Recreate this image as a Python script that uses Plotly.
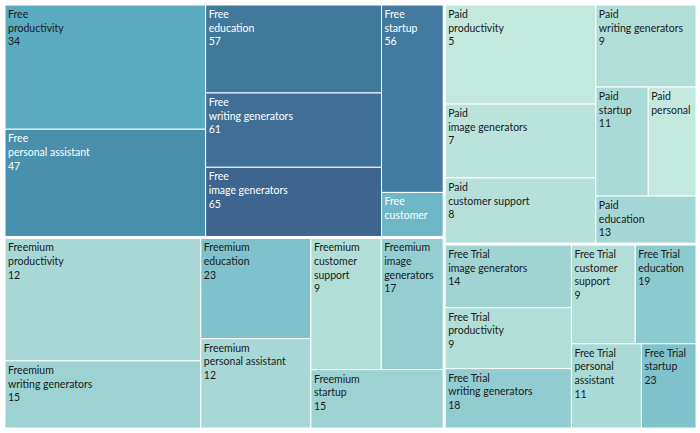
import plotly.graph_objects as go
from plotly.colors import find_intermediate_color, hex_to_rgb, label_rgb

groups = ["Free", "Paid", "Freemium", "Free Trial"]
categories = ["productivity", "personal assistant", "education",
              "writing generators", "image generators", "startup", "customer support"]

# size measure (relative area) per category, same order as categories
free_size = [248, 214, 154, 130, 121, 115, 27]
paid_size = [149, 52, 47, 82, 111, 57, 98]
freemium_size = [239, 98, 110, 131, 81, 77, 92]
trial_size = [77, 59, 60, 75, 79, 46, 63]

# colour / label measure per category
free_value = [34, 47, 57, 61, 65, 56, 28]
paid_value = [5, 5, 13, 9, 7, 11, 8]
freemium_value = [12, 12, 23, 15, 17, 15, 9]
trial_value = [9, 11, 19, 18, 14, 23, 9]

sizes = [free_size, paid_size, freemium_size, trial_size]
values = [free_value, paid_value, freemium_value, trial_value]

# labels that Tableau wrapped or truncated
wrapped = {
    ("Freemium", "customer support"): "customer<br>support",
    ("Freemium", "image generators"): "image<br>generators",
    ("Free Trial", "customer support"): "customer<br>support",
    ("Free Trial", "personal assistant"): "personal<br>assistant",
    ("Free", "customer support"): "customer",
    ("Paid", "personal assistant"): "personal",
}
hidden_value = {("Free", "customer support"), ("Paid", "personal assistant")}
white_text = {("Free", c) for c in categories if c != "productivity"}

# Blue-Teal sequential scale (value -> colour)
scale_min, scale_max = 5, 65
scale = [(5, "#c3e8de"), (9, "#b2ded8"), (13, "#a3d6d4"), (23, "#7fc2cb"),
         (34, "#5aaac0"), (47, "#4890ad"), (57, "#41799d"), (65, "#3d6590")]


def colour_for(v):
    v = max(scale_min, min(scale_max, v))
    for (v0, c0), (v1, c1) in zip(scale[:-1], scale[1:]):
        if v0 <= v <= v1:
            t = (v - v0) / (v1 - v0) if v1 > v0 else 0
            rgb = find_intermediate_color(hex_to_rgb(c0), hex_to_rgb(c1), t)
            return label_rgb(tuple(int(round(x)) for x in rgb))
    return scale[-1][1]


ids, labels, parents, node_values, colors, texts, text_colors = [], [], [], [], [], [], []
for g in groups:
    ids.append(g)
    labels.append(g)
    parents.append("")
    node_values.append(0)
    colors.append("white")
    texts.append("")
    text_colors.append("#1a1a1a")

for g, gs, gv in zip(groups, sizes, values):
    for c, s, v in zip(categories, gs, gv):
        ids.append(f"{g}/{c}")
        labels.append(c)
        parents.append(g)
        node_values.append(s)
        colors.append(colour_for(v))
        cat_txt = wrapped.get((g, c), c)
        t = f"{g}<br>{cat_txt}"
        if (g, c) not in hidden_value:
            t += f"<br>{v}"
        texts.append(t)
        text_colors.append("white" if (g, c) in white_text else "#1a1a1a")

fig = go.Figure(go.Treemap(
    ids=ids,
    labels=labels,
    parents=parents,
    values=node_values,
    branchvalues="remainder",
    text=texts,
    texttemplate="%{text}",
    textposition="top left",
    textfont=dict(family="Lato, Roboto, sans-serif", size=10.5, color=text_colors),
    hovertemplate="%{id}<extra></extra>",
    marker=dict(colors=colors, line=dict(width=1, color="white"),
                pad=dict(t=1, l=1, r=1, b=1)),
    tiling=dict(packing="squarify", squarifyratio=1.618, pad=0),
    pathbar=dict(visible=False),
    sort=True,
))

fig.update_layout(
    width=700, height=433,
    margin=dict(l=3, r=2, t=3, b=3),
    paper_bgcolor="white",
    uniformtext=dict(minsize=10.5, mode="show"),
)

fig.write_html("out.html", config={"displayModeBar": False},
               post_script="document.body.style.margin='0';")
